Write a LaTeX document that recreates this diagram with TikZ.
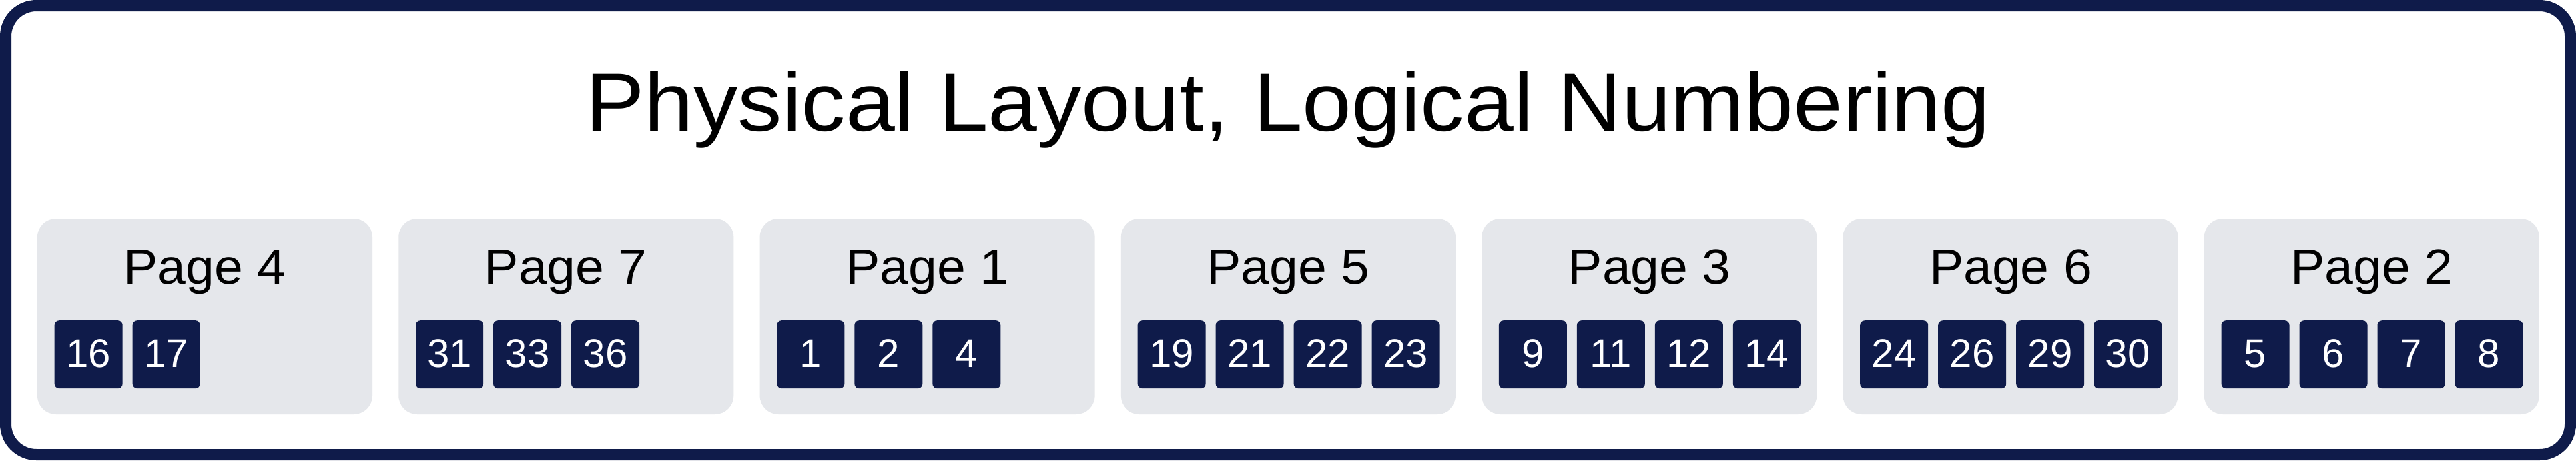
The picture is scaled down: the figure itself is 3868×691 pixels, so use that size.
\documentclass[tikz,border=0pt]{standalone}
\usepackage{fontspec}
\setmainfont{Liberation Sans}
\definecolor{navy}{RGB}{15,27,74}
\definecolor{pagegray}{RGB}{229,231,235}
\tikzset{
  pagebox/.style={fill=pagegray, rounded corners=28pt, draw=none},
  cell/.style={fill=navy, rounded corners=7pt, draw=none, minimum width=102pt, minimum height=102pt, inner sep=0pt, anchor=north west, text=white, font=\fontsize{60}{60}\selectfont},
  pagelabel/.style={text=black, font=\fontsize{74}{74}\selectfont, anchor=base, inner sep=0pt},
  titletext/.style={text=black, font=\fontsize{124}{124}\selectfont, anchor=base, inner sep=0pt}
}
\begin{document}
\begin{tikzpicture}[x=1pt,y=-1pt]
\useasboundingbox (0,0) rectangle (3868,691);
\draw[navy, line width=17pt, rounded corners=46pt, fill=white] (8.5,8.5) rectangle (3859.5,682.5);
\node[titletext] (title) at (1934,196) {\scalebox{1.07}[1]{Physical Layout, Logical Numbering}};
\foreach \i/\lab/\cells in {0/4/{16,17},1/7/{31,33,36},2/1/{1,2,4},3/5/{19,21,22,23},4/3/{9,11,12,14},5/6/{24,26,29,30},6/2/{5,6,7,8}}{
  \pgfmathsetmacro{\px}{56+542.3*\i}
  \fill[pagebox] (\px,328) rectangle ++(503,294);
  \coordinate (pg\i) at (\px,328);
  \node[pagelabel] (lab\i) at ({\px+251.5},426) {\scalebox{1.04}[1]{Page \lab}};
  \foreach \c [count=\k from 0] in \cells {
    \node[cell] (c\i-\k) at ({\px+25.5+117*\k},481) {\raisebox{3pt}{\c}};
  }
}
\end{tikzpicture}
\end{document}
